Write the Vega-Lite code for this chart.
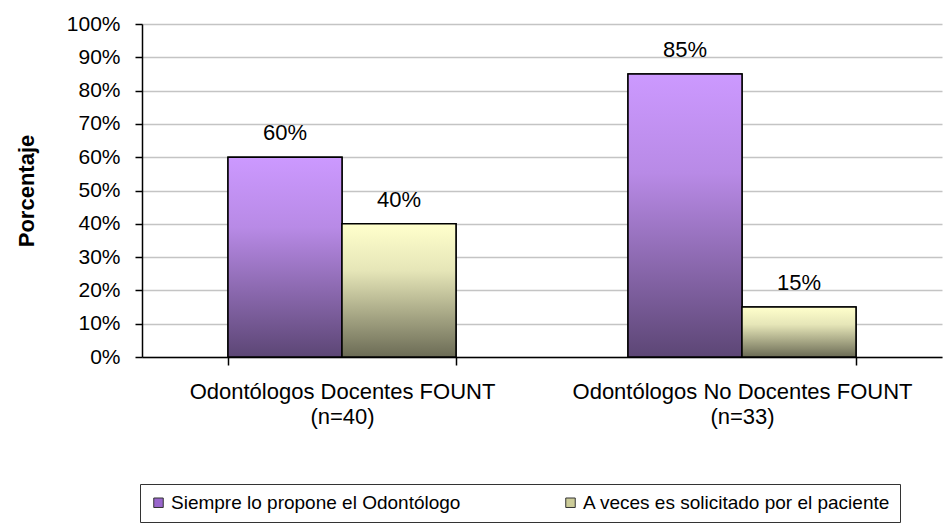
{
  "$schema": "https://vega.github.io/schema/vega-lite/v6.json",
  "width": 800,
  "height": 333,
  "autosize": {"type": "none"},
  "padding": {"left": 142, "top": 24, "right": 7, "bottom": 172},
  "background": "white",
  "config": {
    "view": {"stroke": null},
    "font": "Liberation Sans",
    "axis": {"labelColor": "black", "titleColor": "black"}
  },
  "data": {
    "values": [
      {"grupo": "Odontólogos Docentes FOUNT|(n=40)", "serie": "Siempre lo propone el Odontólogo", "valor": 0.60},
      {"grupo": "Odontólogos Docentes FOUNT|(n=40)", "serie": "A veces es solicitado por el paciente", "valor": 0.40},
      {"grupo": "Odontólogos No Docentes FOUNT|(n=33)", "serie": "Siempre lo propone el Odontólogo", "valor": 0.85},
      {"grupo": "Odontólogos No Docentes FOUNT|(n=33)", "serie": "A veces es solicitado por el paciente", "valor": 0.15}
    ]
  },
  "encoding": {
    "x": {
      "field": "grupo",
      "type": "nominal",
      "sort": null,
      "scale": {"paddingInner": 0.43, "paddingOuter": 0.215},
      "axis": {
        "title": null,
        "labelAngle": 0,
        "labelExpr": "split(datum.label, '|')",
        "labelFontSize": 22,
        "labelLineHeight": 25,
        "labelPadding": 16,
        "labelLimit": 400,
        "tickBand": "extent",
        "tickSize": 8,
        "tickColor": "black",
        "tickWidth": 1.5,
        "domainColor": "black",
        "domainWidth": 1.5
      }
    },
    "xOffset": {
      "field": "serie",
      "type": "nominal",
      "sort": ["Siempre lo propone el Odontólogo", "A veces es solicitado por el paciente"],
      "scale": {"paddingInner": 0, "paddingOuter": 0}
    },
    "y": {
      "field": "valor",
      "type": "quantitative",
      "scale": {"domain": [0, 1]},
      "axis": {
        "title": "Porcentaje",
        "titleFontSize": 22,
        "titleFontWeight": "bold",
        "titleX": -104,
        "format": ".0%",
        "values": [0, 0.1, 0.2, 0.3, 0.4, 0.5, 0.6, 0.7, 0.8, 0.9, 1],
        "labelFontSize": 21,
        "labelPadding": 15,
        "tickSize": 7,
        "tickColor": "black",
        "tickWidth": 1.5,
        "domainColor": "black",
        "domainWidth": 1.5,
        "grid": true,
        "gridColor": "#c4c4c4",
        "gridWidth": 1.5
      }
    }
  },
  "layer": [
    {
      "mark": {"type": "bar", "stroke": "black", "strokeWidth": 1.5},
      "encoding": {
        "color": {
          "field": "serie",
          "type": "nominal",
          "sort": ["Siempre lo propone el Odontólogo", "A veces es solicitado por el paciente"],
          "scale": {"range": ["#9966CC", "#CCCC99"]},
          "legend": {
            "title": null,
            "orient": "none",
            "legendX": -2,
            "legendY": 460,
            "direction": "horizontal",
            "strokeColor": "#333333",
            "padding": 9,
            "symbolType": "square",
            "symbolSize": 90,
            "symbolStrokeColor": "#333333",
            "symbolStrokeWidth": 1,
            "symbolOpacity": 1,
            "labelFontSize": 19,
            "labelColor": "black",
            "labelLimit": 500,
            "labelOffset": 3,
            "columnPadding": 100
          }
        }
      }
    },
    {
      "transform": [{"filter": "datum.serie == 'Siempre lo propone el Odontólogo'"}],
      "mark": {
        "type": "bar",
        "stroke": "black",
        "strokeWidth": 1.5,
        "fill": {
          "gradient": "linear",
          "x1": 0, "y1": 0, "x2": 0, "y2": 1,
          "stops": [
            {"offset": 0, "color": "#CC99FF"},
            {"offset": 0.35, "color": "#B88AE6"},
            {"offset": 1, "color": "#5C4675"}
          ]
        }
      },
      "encoding": {}
    },
    {
      "transform": [{"filter": "datum.serie == 'A veces es solicitado por el paciente'"}],
      "mark": {
        "type": "bar",
        "stroke": "black",
        "strokeWidth": 1.5,
        "fill": {
          "gradient": "linear",
          "x1": 0, "y1": 0, "x2": 0, "y2": 1,
          "stops": [
            {"offset": 0, "color": "#FFFFCC"},
            {"offset": 0.35, "color": "#E6E6B8"},
            {"offset": 1, "color": "#6B6B55"}
          ]
        }
      },
      "encoding": {}
    },
    {
      "mark": {"type": "text", "baseline": "middle", "dy": -24, "fontSize": 22, "color": "black"},
      "encoding": {
        "text": {"field": "valor", "type": "quantitative", "format": ".0%"}
      }
    }
  ]
}
